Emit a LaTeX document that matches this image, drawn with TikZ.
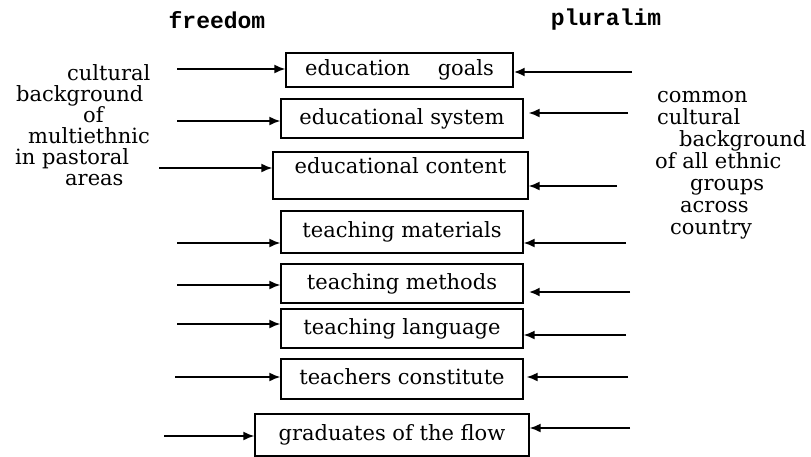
\documentclass[tikz,border=0pt]{standalone}
\usepackage{fontspec}
\setmainfont{DejaVu Serif}
\newfontfamily\headfont{Liberation Mono}
\usetikzlibrary{arrows.meta}

\begin{document}
\begin{tikzpicture}
      [x=1pt,y=-1pt,
      every node/.style={font=\fontsize{21}{21}\selectfont},
      box/.style={draw,line width=1.4pt,inner sep=0pt,text height=16pt,text depth=5pt},
      arr/.style={-{Latex[length=11pt,width=9pt]},line width=1.6pt},
      heavy/.style={arr,line width=2.6pt},
      side/.style={align=left,inner sep=0pt,anchor=north west},
      head/.style={font=\fontsize{23}{23}\headfont\bfseries}]
\useasboundingbox (0,0) rectangle (811,456);
\node[head] (freedom) at (217,20) {freedom};
\node[head] (pluralim) at (606,20) {pluralim};
\node[box,minimum width=227pt,minimum height=34pt] (goals) at (399.5,70) {education\quad\ goals};
\node[box,minimum width=242pt,minimum height=39pt] (system) at (402,118.5) {educational system};
\node[box,minimum width=255pt,minimum height=47pt,text depth=20pt] (content) at (400.5,175.5) {educational content};
\node[box,minimum width=242pt,minimum height=42pt] (materials) at (402,232) {teaching materials};
\node[box,minimum width=242pt,minimum height=39pt] (methods) at (402,283.5) {teaching methods};
\node[box,minimum width=242pt,minimum height=39pt] (language) at (402,328.5) {teaching language};
\node[box,minimum width=242pt,minimum height=40pt] (teachers) at (402,379) {teachers constitute};
\node[box,minimum width=274pt,minimum height=42pt] (graduates) at (392,435) {graduates of the flow};
\node[side] (pastoral) at (15,64) {\hspace*{52pt}cultural\\ \hspace*{1pt}background\\ \hspace*{68pt}of\\ \hspace*{13pt}multiethnic\\ in pastoral\\ \hspace*{50pt}areas};
\node[side,font=\fontsize{21}{22}\selectfont] (ethnic) at (655,91) {\hspace*{2pt}common\\ \hspace*{2pt}cultural\\ \hspace*{24pt}background\\ of all ethnic\\ \hspace*{35pt}groups\\ \hspace*{25pt}across\\ \hspace*{15pt}country};
\coordinate (l1) at (177,69);
\coordinate (l2) at (177,121);
\coordinate (l3) at (159,168);
\coordinate (l4) at (177,243);
\coordinate (l5) at (177,285);
\coordinate (l6) at (177,324);
\coordinate (l7) at (175,377);
\coordinate (l8) at (164,436);
\coordinate (r1) at (632,72);
\coordinate (r2) at (628,113);
\coordinate (r3) at (617,186);
\coordinate (r4) at (626,243);
\coordinate (r5) at (630,292);
\coordinate (r6) at (626,335);
\coordinate (r7) at (628,377);
\coordinate (r8) at (630,428);
\draw[arr] (l1) -- (goals.west |- l1);
\draw[arr] (l2) -- (system.west |- l2);
\draw[arr] (l3) -- (content.west |- l3);
\draw[arr] (l4) -- (materials.west |- l4);
\draw[arr] (l5) -- (methods.west |- l5);
\draw[arr] (l6) -- (language.west |- l6);
\draw[arr] (l7) -- (teachers.west |- l7);
\draw[arr] (l8) -- (graduates.west |- l8);
\draw[heavy] (r1) -- (goals.east |- r1);
\draw[arr,shorten >=5pt] (r2) -- (system.east |- r2);
\draw[arr] (r3) -- (content.east |- r3);
\draw[arr] (r4) -- (materials.east |- r4);
\draw[heavy,shorten >=5pt] (r5) -- (methods.east |- r5);
\draw[arr] (r6) -- (language.east |- r6);
\draw[arr,shorten >=3pt] (r7) -- (teachers.east |- r7);
\draw[arr] (r8) -- (graduates.east |- r8);
\end{tikzpicture}
\end{document}
